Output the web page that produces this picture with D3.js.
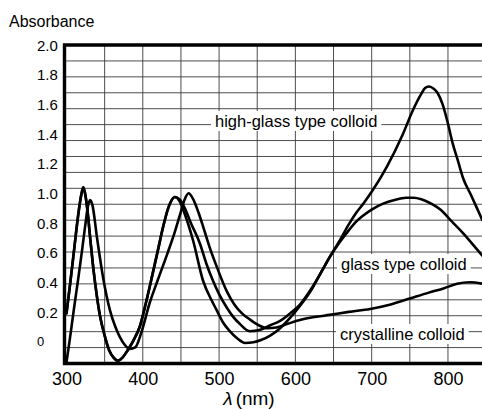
<!DOCTYPE html>
<html>
<head>
<meta charset="utf-8">
<script src="https://cdn.jsdelivr.net/npm/d3@7"></script>
<style>
  html, body { margin: 0; padding: 0; background: #fff; }
  svg { display: block; font-family: "Liberation Sans", Arial, Helvetica, sans-serif; }
</style>
</head>
<body>
<svg id="chart" width="482" height="410"></svg>
<script>
// Absorption spectra of three colloid types (wavelength in nm, absorbance)
const highGlassWl = [300, 305, 310, 315, 319, 322, 325, 328, 331, 335, 340, 344, 350, 356, 362, 367, 373, 380, 388, 396, 405, 413, 420, 426, 434, 442,
  448, 455, 466, 479, 490, 497, 505, 514, 524, 534, 545, 555, 567, 580, 593, 606, 620, 633, 645, 658, 670, 680, 689, 700, 720, 741, 754, 765, 770, 775, 780, 786, 793, 800, 806, 813, 820, 830, 838, 845];
const highGlassAbs = [0.19, 0.40, 0.62, 0.84, 0.98, 1.04, 0.98, 0.86, 0.70, 0.50, 0.30, 0.17, 0.04, -0.06, -0.11, -0.13, -0.11, -0.06, 0.01, 0.10, 0.28, 0.46, 0.62, 0.76, 0.91, 0.975,
  0.95, 0.86, 0.68, 0.41, 0.28, 0.21, 0.13, 0.07, 0.02, -0.01, -0.005, 0.01, 0.04, 0.09, 0.16, 0.24, 0.34, 0.46, 0.57, 0.68, 0.79, 0.87, 0.93, 1.01, 1.18, 1.40, 1.56, 1.67, 1.71, 1.72, 1.71, 1.68, 1.60, 1.47, 1.34, 1.22, 1.10, 0.99, 0.90, 0.82];

const glassWl = [300, 305, 310, 315, 319, 322, 325, 328, 331, 335, 340, 344, 350, 356, 362, 367, 373, 380, 388, 396, 405, 413, 420, 426, 434, 442,
  448, 455, 463, 475, 483, 492, 500, 510, 518, 527, 540, 554, 567, 580, 593, 606, 620, 633, 645, 658, 670, 680, 689, 700, 715, 730, 745, 755, 765, 778, 790, 805, 820, 835, 845];
const glassAbs = [0.19, 0.40, 0.62, 0.84, 0.98, 1.04, 0.98, 0.86, 0.70, 0.50, 0.30, 0.17, 0.04, -0.06, -0.11, -0.13, -0.11, -0.06, 0.01, 0.10, 0.28, 0.46, 0.62, 0.76, 0.91, 0.975,
  0.96, 0.90, 0.80, 0.66, 0.53, 0.41, 0.32, 0.23, 0.17, 0.12, 0.07, 0.08, 0.11, 0.14, 0.19, 0.25, 0.35, 0.46, 0.57, 0.67, 0.75, 0.81, 0.85, 0.89, 0.93, 0.955, 0.97, 0.97, 0.96, 0.93, 0.89, 0.81, 0.73, 0.64, 0.58];

const crystWl = [300, 305, 310, 315, 320, 325, 328, 331, 334, 340, 348, 357, 364, 370, 376, 383, 390, 398, 409, 420, 432, 442, 449, 455, 460,
  466, 473, 480, 488, 498, 510, 520, 530, 540, 552, 563, 575, 590, 606, 625, 645, 670, 698, 725, 750, 775, 795, 812, 829, 845];
const crystAbs = [-0.14, 0.04, 0.23, 0.41, 0.60, 0.80, 0.91, 0.955, 0.92, 0.70, 0.43, 0.21, 0.10, 0.03, -0.02, -0.05, -0.04, 0.06, 0.26, 0.42, 0.59, 0.74, 0.86, 0.96, 1.0,
  0.96, 0.87, 0.76, 0.63, 0.49, 0.34, 0.25, 0.19, 0.15, 0.11, 0.09, 0.095, 0.12, 0.145, 0.165, 0.18, 0.20, 0.22, 0.25, 0.29, 0.33, 0.36, 0.39, 0.40, 0.39];

const xTicks = [300, 400, 500, 600, 700, 800];
const yTicks = [0, 0.2, 0.4, 0.6, 0.8, 1.0, 1.2, 1.4, 1.6, 1.8, 2.0];
const yTickLabels = ["0", "0.2", "0.4", "0.6", "0.8", "1.0", "1.2", "1.4", "1.6", "1.8", "2.0"];
const xGridValues = [350, 400, 450, 500, 550, 600, 650, 700, 750, 800];
const seriesNames = ["high-glass type colloid", "glass type colloid", "crystalline colloid"];

const svg = d3.select("#chart");
const W = 482, H = 410;
const plotLeft = 64.5, plotTop = 45, plotBottom = 363.5;

svg.append("rect").attr("width", W).attr("height", H).attr("fill", "#fff");

const x = d3.scaleLinear().domain([300, 845]).range([66.5, 482.3]);
const y = d3.scaleLinear().domain([-0.148, 2.0]).range([plotBottom, plotTop]);

// Chart paper grid: 50 nm columns, 20 equal rows across the frame
const rowScale = d3.scaleLinear().domain([0, 20]).range(y.domain());
const grid = svg.append("g").attr("stroke", "#3a3a3a").attr("stroke-width", 0.9);
grid.selectAll("line.v").data(xGridValues).join("line")
  .attr("class", "v")
  .attr("x1", d => x(d)).attr("x2", d => x(d))
  .attr("y1", plotTop).attr("y2", plotBottom);
grid.selectAll("line.h").data(d3.range(1, 20)).join("line")
  .attr("class", "h")
  .attr("x1", plotLeft).attr("x2", W)
  .attr("y1", d => y(rowScale(d))).attr("y2", d => y(rowScale(d)));

// Curve labels sit on white patches over the grid
const labels = [
  { text: seriesNames[0], x: 215, y: 127 },
  { text: seriesNames[1], x: 341, y: 270 },
  { text: seriesNames[2], x: 340, y: 340 }
];
const lg = svg.append("g");
labels.forEach(l => {
  const t = lg.append("text")
    .attr("x", l.x).attr("y", l.y)
    .attr("font-size", 16.5)
    .attr("fill", "#000")
    .text(l.text);
  const bb = t.node().getBBox();
  lg.insert("rect", "text")
    .attr("x", bb.x - 4).attr("y", bb.y - 1)
    .attr("width", bb.width + 8).attr("height", bb.height + 2)
    .attr("fill", "#fff");
});

// Spectra
const line = d3.line()
  .x(d => x(d[0]))
  .y(d => y(d[1]))
  .curve(d3.curveMonotoneX);

const series = [
  d3.zip(highGlassWl, highGlassAbs),
  d3.zip(glassWl, glassAbs),
  d3.zip(crystWl, crystAbs)
];
svg.append("g").selectAll("path").data(series).join("path")
  .attr("d", line)
  .attr("fill", "none")
  .attr("stroke", "#000")
  .attr("stroke-width", 2.6)
  .attr("stroke-linejoin", "round")
  .attr("stroke-linecap", "round");

// Heavy frame on top, left and bottom
const frame = svg.append("g").attr("stroke", "#000").attr("stroke-width", 3.4).attr("fill", "none");
frame.append("path").attr("d", `M${W},${plotTop} H${plotLeft} V${plotBottom} H${W}`);

// X axis labels
const xAxis = d3.axisBottom(x).tickValues(xTicks).tickSize(0).tickPadding(0).tickFormat(d3.format("d"));
const xg = svg.append("g").attr("transform", `translate(0,${plotBottom})`).call(xAxis);
xg.select(".domain").remove();
xg.selectAll("text")
  .attr("font-family", "Liberation Sans, Arial, sans-serif")
  .attr("font-size", 18)
  .attr("fill", "#000")
  .attr("dy", null)
  .attr("y", 21.5);

// Y axis labels, left aligned
const yAxis = d3.axisLeft(y).tickValues(yTicks).tickSize(0).tickFormat((d, i) => yTickLabels[i]);
const yg = svg.append("g").attr("transform", `translate(${plotLeft},0)`).call(yAxis);
yg.select(".domain").remove();
yg.selectAll("text")
  .attr("font-family", "Liberation Sans, Arial, sans-serif")
  .attr("font-size", d => d === 0 ? 13 : 15)
  .attr("fill", "#000")
  .attr("text-anchor", "start")
  .attr("x", -27.5)
  .attr("dy", "0.34em");

// Titles
svg.append("text")
  .attr("x", 9).attr("y", 27)
  .attr("font-size", 16)
  .attr("fill", "#000")
  .text("Absorbance");

const xt = svg.append("text")
  .attr("x", 249).attr("y", 405)
  .attr("text-anchor", "middle")
  .attr("font-size", 19)
  .attr("fill", "#000");
xt.append("tspan").attr("font-style", "italic").text("λ");
xt.append("tspan").attr("dx", 3).text("(nm)");
</script>
</body>
</html>
